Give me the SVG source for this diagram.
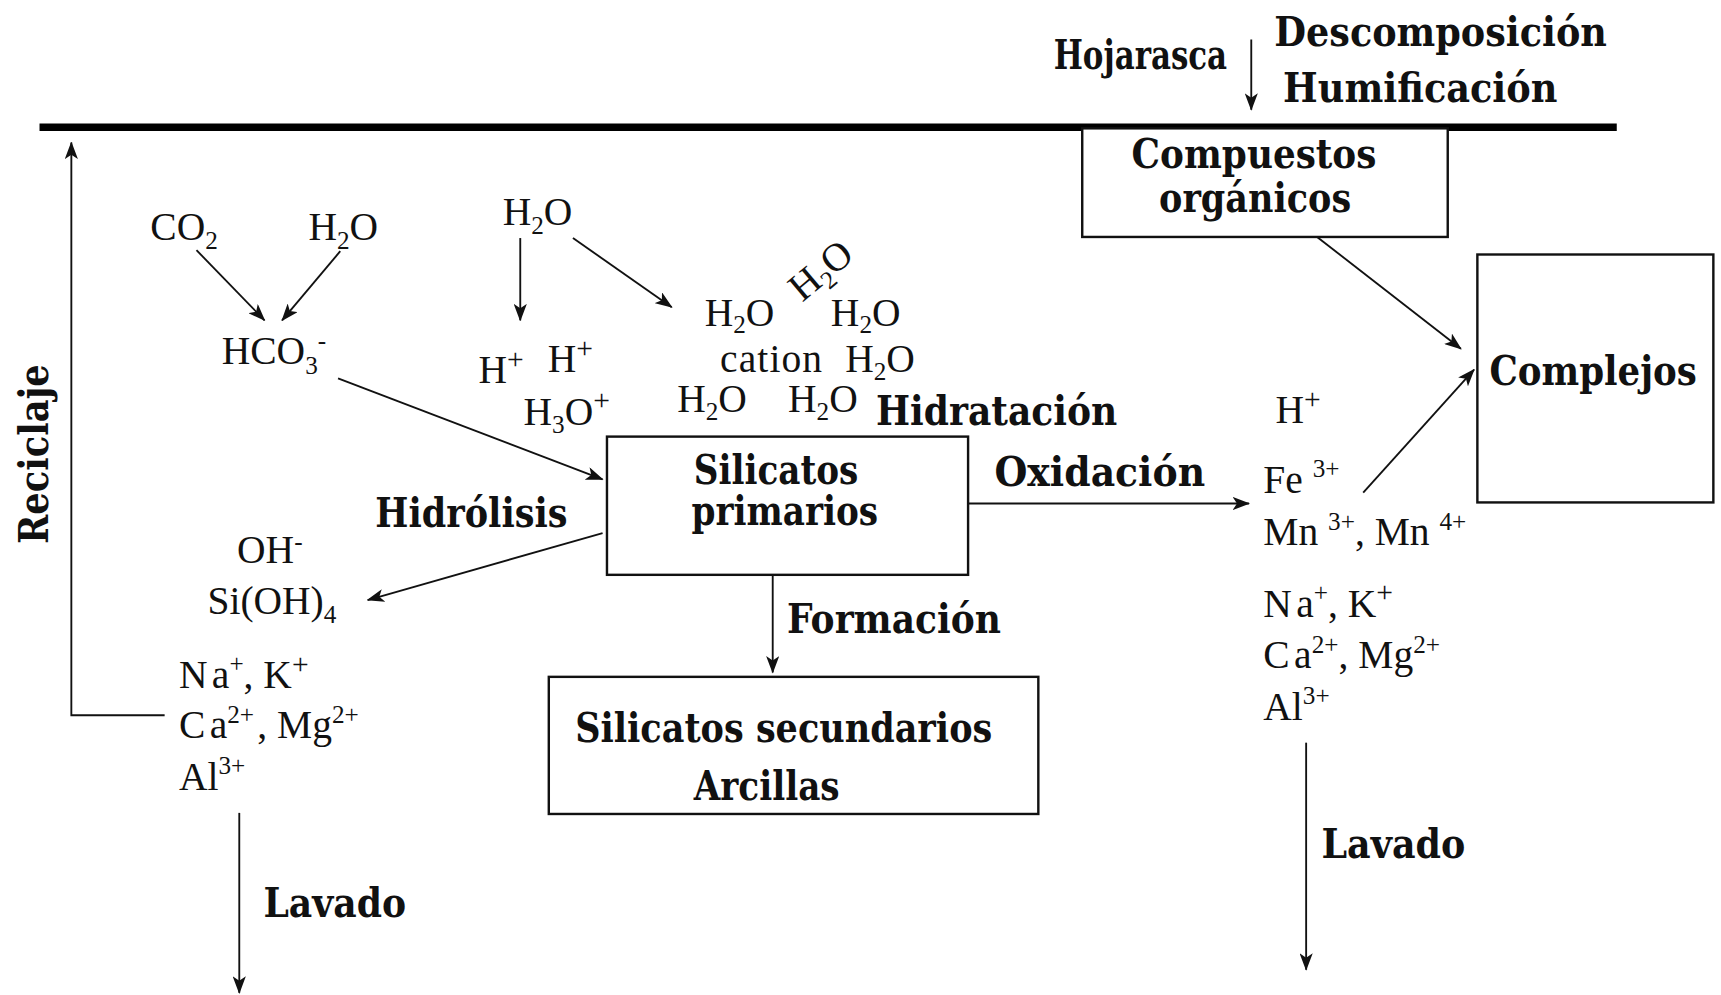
<svg xmlns="http://www.w3.org/2000/svg" width="1721" height="995" viewBox="0 0 1721 995">
<defs>
<marker id="ah" markerUnits="userSpaceOnUse" markerWidth="16" markerHeight="12" refX="15" refY="6" orient="auto"><path d="M0,0 L16,6 L0,12 L4,6 Z" fill="#111"/></marker>
<style>
.r{font-family:"Liberation Serif","Times New Roman",serif;font-size:36px;fill:#111}
.b{font-family:"DejaVu Serif","Liberation Serif",serif;font-weight:bold;font-size:37px;fill:#111}
.s{font-size:23px}
.p{font-size:27px}
.ln{stroke:#111;stroke-width:1.7;fill:none}
.box{fill:#fff;stroke:#111;stroke-width:2.2}
</style>
</defs>
<rect width="1721" height="995" fill="#fff"/>
<g transform="scale(1.0976,1.0970)">
<g id="connectors">
<line x1="36" y1="116" x2="1473" y2="116" stroke="#000" stroke-width="7"/>
<polyline class="ln" points="150,652 65,652 65,130" marker-end="url(#ah)"/>
<line class="ln" x1="1140" y1="36" x2="1140" y2="100" marker-end="url(#ah)"/>
<line class="ln" x1="179" y1="228" x2="241" y2="292" marker-end="url(#ah)"/>
<line class="ln" x1="310" y1="229" x2="257" y2="292" marker-end="url(#ah)"/>
<line class="ln" x1="308" y1="345" x2="549" y2="437" marker-end="url(#ah)"/>
<line class="ln" x1="474" y1="217" x2="474" y2="292" marker-end="url(#ah)"/>
<line class="ln" x1="522" y1="217" x2="612" y2="280" marker-end="url(#ah)"/>
<line class="ln" x1="549" y1="486" x2="335" y2="547" marker-end="url(#ah)"/>
<line class="ln" x1="704" y1="524" x2="704" y2="613" marker-end="url(#ah)"/>
<line class="ln" x1="882" y1="459" x2="1138" y2="459" marker-end="url(#ah)"/>
<line class="ln" x1="1200" y1="216" x2="1331" y2="318" marker-end="url(#ah)"/>
<line class="ln" x1="1242" y1="449" x2="1343" y2="337" marker-end="url(#ah)"/>
<line class="ln" x1="218" y1="741" x2="218" y2="905" marker-end="url(#ah)"/>
<line class="ln" x1="1190" y1="677" x2="1190" y2="884" marker-end="url(#ah)"/>
</g>
<g id="top-labels">
<text class="b" x="960" y="63" font-size="29" textLength="158" lengthAdjust="spacingAndGlyphs" fill="#1c1c2a">Hojarasca</text>
<text class="b" x="1161" y="42" font-size="33" textLength="303" lengthAdjust="spacingAndGlyphs">Descomposición</text>
<text class="b" x="1169" y="93" font-size="33" textLength="250" lengthAdjust="spacingAndGlyphs">Humificación</text>
</g>
<g id="compuestos">
<rect class="box" x="986" y="117" width="333" height="99"/>
<text class="b" x="1031" y="153" font-size="33" textLength="223" lengthAdjust="spacingAndGlyphs">Compuestos</text>
<text class="b" x="1056" y="193" font-size="33" textLength="175" lengthAdjust="spacingAndGlyphs">orgánicos</text>
</g>
<g id="complejos">
<rect class="box" x="1346" y="232" width="215" height="226"/>
<text class="b" x="1357" y="351" textLength="189" lengthAdjust="spacingAndGlyphs">Complejos</text>
</g>
<g id="silicatos-primarios">
<rect class="box" x="553" y="398" width="329" height="126"/>
<text class="b" x="632" y="441" textLength="150" lengthAdjust="spacingAndGlyphs">Silicatos</text>
<text class="b" x="630" y="479" textLength="170" lengthAdjust="spacingAndGlyphs">primarios</text>
</g>
<g id="silicatos-secundarios">
<rect class="box" x="500" y="617" width="446" height="125"/>
<text class="b" x="524" y="676" textLength="380" lengthAdjust="spacingAndGlyphs">Silicatos secundarios</text>
<text class="b" x="632" y="729" textLength="133" lengthAdjust="spacingAndGlyphs">Arcillas</text>
</g>
<g id="process-labels">
<text class="b" x="798" y="387" textLength="220" lengthAdjust="spacingAndGlyphs">Hidratación</text>
<text class="b" x="342" y="480" textLength="175" lengthAdjust="spacingAndGlyphs">Hidrólisis</text>
<text class="b" x="906" y="443" textLength="192" lengthAdjust="spacingAndGlyphs">Oxidación</text>
<text class="b" x="717" y="577" textLength="195" lengthAdjust="spacingAndGlyphs">Formación</text>
<text class="b" x="240" y="836" textLength="130" lengthAdjust="spacingAndGlyphs">Lavado</text>
<text class="b" x="1204" y="782" textLength="131" lengthAdjust="spacingAndGlyphs">Lavado</text>
<text class="b" transform="translate(44,496) rotate(-90)" textLength="164" lengthAdjust="spacingAndGlyphs">Reciclaje</text>
</g>
<g id="carbonic">
<text class="r" x="137" y="219">CO<tspan class="s" dy="8">2</tspan></text>
<text class="r" x="281" y="219">H<tspan class="s" dy="8">2</tspan><tspan dy="-8">O</tspan></text>
<text class="r" x="202" y="332">HCO<tspan class="s" dy="9">3</tspan><tspan class="s" dy="-23">-</tspan></text>
</g>
<g id="acid">
<text class="r" x="458" y="205">H<tspan class="s" dy="8">2</tspan><tspan dy="-8">O</tspan></text>
<text class="r" x="436" y="349">H<tspan class="p" dy="-13">+</tspan></text>
<text class="r" x="499" y="339">H<tspan class="p" dy="-13">+</tspan></text>
<text class="r" x="477" y="387">H<tspan class="s" dy="8">3</tspan><tspan dy="-8">O</tspan><tspan class="p" dy="-13">+</tspan></text>
</g>
<g id="hydration">
<text class="r" x="642" y="297">H<tspan class="s" dy="7">2</tspan><tspan dy="-7">O</tspan></text>
<text class="r" transform="translate(731,276) rotate(-40)">H<tspan class="s" dy="7">2</tspan><tspan dy="-7">O</tspan></text>
<text class="r" x="757" y="297">H<tspan class="s" dy="7">2</tspan><tspan dy="-7">O</tspan></text>
<text class="r" x="656" y="339" textLength="93">cation</text>
<text class="r" x="770" y="339">H<tspan class="s" dy="7">2</tspan><tspan dy="-7">O</tspan></text>
<text class="r" x="617" y="376">H<tspan class="s" dy="7">2</tspan><tspan dy="-7">O</tspan></text>
<text class="r" x="718" y="376">H<tspan class="s" dy="7">2</tspan><tspan dy="-7">O</tspan></text>
</g>
<g id="hydrolysis-products">
<text class="r" x="216" y="513">OH<tspan class="s" dy="-12">-</tspan></text>
<text class="r" x="189" y="560">Si(OH)<tspan class="s" dy="8">4</tspan></text>
<text class="r" x="163" y="627">N<tspan dx="4">a</tspan><tspan class="s" dy="-14">+</tspan><tspan dy="14">, K</tspan><tspan class="p" dy="-13">+</tspan></text>
<text class="r" x="163" y="673">C<tspan dx="4">a</tspan><tspan class="s" dy="-14">2+</tspan><tspan dy="14" dx="3">, Mg</tspan><tspan class="s" dy="-14">2+</tspan></text>
<text class="r" x="163" y="720">Al<tspan class="s" dy="-14">3+</tspan></text>
</g>
<g id="oxidation-products">
<text class="r" x="1162" y="386">H<tspan class="p" dy="-13">+</tspan></text>
<text class="r" x="1151" y="449">Fe <tspan class="s" dy="-14">3+</tspan></text>
<text class="r" x="1151" y="497">Mn <tspan class="s" dy="-14">3+</tspan><tspan dy="14">, Mn </tspan><tspan class="s" dy="-14">4+</tspan></text>
<text class="r" x="1151" y="562">N<tspan dx="4">a</tspan><tspan class="s" dy="-14">+</tspan><tspan dy="14">, K</tspan><tspan class="p" dy="-13">+</tspan></text>
<text class="r" x="1151" y="609">C<tspan dx="4">a</tspan><tspan class="s" dy="-14">2+</tspan><tspan dy="14">, Mg</tspan><tspan class="s" dy="-14">2+</tspan></text>
<text class="r" x="1151" y="656">Al<tspan class="s" dy="-14">3+</tspan></text>
</g>
</g>
</svg>
